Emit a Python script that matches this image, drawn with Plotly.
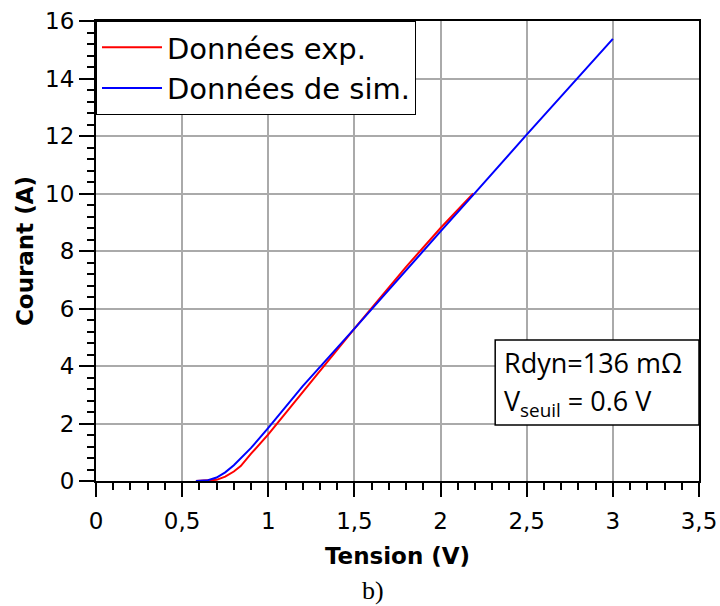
import plotly.graph_objects as go

# Experimental data (red)
v_exp = [0.58, 0.65, 0.70, 0.75, 0.80, 0.84, 0.90, 1.00, 1.20, 1.50, 1.80, 2.00, 2.19]
i_exp = [0.0, 0.01, 0.04, 0.15, 0.33, 0.52, 0.95, 1.62, 3.10, 5.30, 7.45, 8.80, 10.0]

# Simulation data (blue)
v_sim = [0.58, 0.65, 0.70, 0.75, 0.80, 0.90, 1.00, 1.20, 1.50, 1.80, 2.00, 2.20, 2.50, 3.00]
i_sim = [0.0, 0.03, 0.12, 0.30, 0.55, 1.15, 1.85, 3.30, 5.30, 7.35, 8.68, 10.02, 12.05, 15.38]

x_ticks = [0, 0.5, 1, 1.5, 2, 2.5, 3, 3.5]
y_ticks = [0, 2, 4, 6, 8, 10, 12, 14, 16]

fig = go.Figure()
fig.add_trace(go.Scatter(x=v_exp, y=i_exp, mode="lines", name="Données exp.",
                         line=dict(color="#ff0000", width=2)))
fig.add_trace(go.Scatter(x=v_sim, y=i_sim, mode="lines", name="Données de sim.",
                         line=dict(color="#0000ff", width=2)))

tickfont = dict(family="DejaVu Sans", size=23, color="black")
titlefont = dict(family="DejaVu Sans", size=23, color="black", weight="bold")

fig.update_layout(
    width=720, height=606,
    margin=dict(l=96, r=21, t=21, b=125),
    paper_bgcolor="white", plot_bgcolor="white",
    separators=", ",
    showlegend=True,
    legend=dict(x=0, y=1, xanchor="left", yanchor="top",
                bgcolor="white", bordercolor="black", borderwidth=1,
                font=dict(family="DejaVu Sans", size=29, color="black"),
                tracegroupgap=0, itemwidth=60),
    xaxis=dict(range=[0, 3.5], tickvals=x_ticks, ticks="outside", ticklen=14,
               tickwidth=2, tickcolor="black", automargin=False,
               ticklabelstandoff=4,
               minor=dict(dtick=0.1, ticks="outside", ticklen=7, tickwidth=2,
                          tickcolor="black", showgrid=False),
               showgrid=True, gridcolor="#aaaaaa", gridwidth=2,
               showline=True, linecolor="black", linewidth=2, mirror=True,
               zeroline=False, tickfont=tickfont,
               title=dict(text="Tension (V)", font=titlefont, standoff=15)),
    yaxis=dict(range=[0, 16], tickvals=y_ticks, ticks="outside", ticklen=15,
               tickwidth=2, tickcolor="black", automargin=False,
               minor=dict(dtick=0.4, ticks="outside", ticklen=7, tickwidth=1.5,
                          tickcolor="black", showgrid=False),
               showgrid=True, gridcolor="#aaaaaa", gridwidth=2,
               showline=True, linecolor="black", linewidth=2, mirror=True,
               zeroline=False, tickfont=tickfont,
               title=dict(text="Courant (A)", font=titlefont, standoff=5)),
)

# Annotation box
fig.add_shape(type="rect", xref="paper", yref="paper",
              x0=0.662, x1=1.0, y0=0.122, y1=0.3065,
              line=dict(color="black", width=1.5), fillcolor="white", layer="above")
fig.add_annotation(xref="paper", yref="paper", x=0.674, y=0.258,
                   xanchor="left", yanchor="middle", showarrow=False,
                   text="Rdyn=136 mΩ",
                   font=dict(family="Open Sans", size=27, color="black"))
fig.add_annotation(xref="paper", yref="paper", x=0.674, y=0.170,
                   xanchor="left", yanchor="middle", showarrow=False,
                   text="V<sub>seuil</sub> = 0.6 V",
                   font=dict(family="Open Sans", size=27, color="black"))
fig.add_annotation(xref="paper", yref="paper", x=0.46, y=-0.238,
                   xanchor="center", yanchor="middle", showarrow=False,
                   text="b)",
                   font=dict(family="Liberation Serif", size=26, color="black"))

fig.write_html("out.html", config={"displayModeBar": False},
               post_script="document.body.style.margin='0';document.body.style.overflow='hidden';")
